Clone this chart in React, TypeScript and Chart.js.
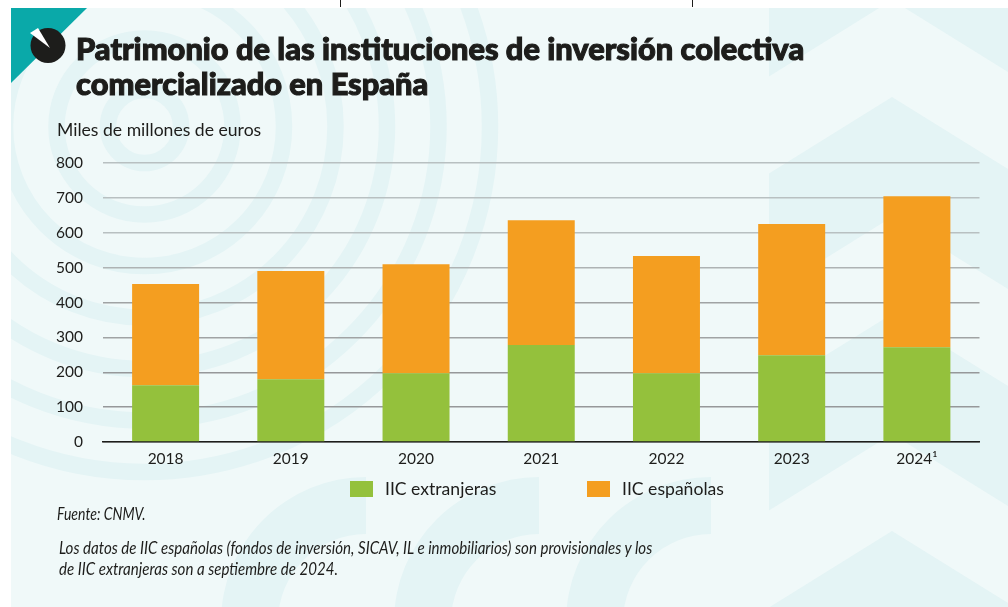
import React, { useEffect, useRef } from "react";
import { Chart, registerables } from "chart.js";

Chart.register(...registerables);

const years = ["2018", "2019", "2020", "2021", "2022", "2023", "2024¹"];
const extranjeras = [163, 180, 197, 278, 197, 249, 272];
const espanolas = [290, 310, 313, 358, 336, 376, 433];
const seriesNames = ["IIC extranjeras", "IIC españolas"];
const seriesColors = ["#94C13C", "#F49E20"];
const titleLines = [
  "Patrimonio de las instituciones de inversión colectiva",
  "comercializado en España",
];
const unitLabel = "Miles de millones de euros";
const sourceLabel = "Fuente: CNMV.";
const noteLines = [
  "Los datos de IIC españolas (fondos de inversión, SICAV, IL e inmobiliarios) son provisionales y los",
  "de IIC extranjeras son a septiembre de 2024.",
];
const ringRadii = [36.5, 88, 139.5, 191, 242.5, 294, 345.5];
const archCentres = [366, 539, 711];
const chevronTops = [-120, 97, 314, 531];

const PANEL = "#F0F9F9";
const BAND = "#E4F4F5";
const INK = "#1D1D1B";
const FONT = "Lato, sans-serif";

function chevron(t: number) {
  return `769,${t + 76.5} 892,${t} 1008,${t + 72} 1008,${t + 192} 892,${t + 120} 769,${t + 196.5}`;
}

function gridColor(value: number) {
  if (value >= 600) return "#B8C0C1";
  if (value >= 500) return "#AEB3B4";
  if (value >= 300) return "#A0A3A4";
  return "#96989A";
}

function Backdrop() {
  return (
    <svg width={1008} height={607} style={{ position: "absolute", left: 0, top: 0 }}>
      <defs>
        <clipPath id="panel">
          <rect x={11} y={8} width={997} height={599} />
        </clipPath>
      </defs>
      <line x1={340.5} y1={0} x2={340.5} y2={7} stroke={INK} />
      <line x1={692.5} y1={0} x2={692.5} y2={7} stroke={INK} />
      <rect x={11} y={8} width={997} height={599} fill={PANEL} />
      <g clipPath="url(#panel)">
        {ringRadii.map((r) => (
          <circle key={r} cx={144.5} cy={126.5} r={r} fill="none" stroke={BAND} strokeWidth={16.5} />
        ))}
        {chevronTops.map((t) => (
          <polygon key={t} points={chevron(t)} fill={BAND} />
        ))}
        {archCentres.map((c) => (
          <path
            key={c}
            d={`M ${c - 145} 622 A 145 145 0 0 1 ${c} 477 L ${c} 534 A 88 88 0 0 0 ${c - 88} 622 Z`}
            fill={BAND}
          />
        ))}
        <polygon points="11,8 87,8 11,83" fill="#0AA9A9" />
        <circle cx={48} cy={45.5} r={17.5} fill={INK} />
        <polygon points="50,48 30,33 38,28" fill="#FFFFFF" />
      </g>
    </svg>
  );
}

const abs = (x: number, y: number): React.CSSProperties => ({
  position: "absolute",
  left: x,
  top: y,
  whiteSpace: "nowrap",
  fontFamily: FONT,
  color: INK,
});

export default function App() {
  const ref = useRef<HTMLCanvasElement>(null);

  useEffect(() => {
    const chart = new Chart(ref.current!, {
      type: "bar",
      data: {
        labels: years,
        datasets: [
          { label: seriesNames[0], data: extranjeras, backgroundColor: seriesColors[0] },
          { label: seriesNames[1], data: espanolas, backgroundColor: seriesColors[1] },
        ],
      },
      options: {
        animation: false,
        responsive: false,
        layout: { autoPadding: false, padding: { top: 163, right: 28.5, bottom: 0, left: 0 } },
        datasets: { bar: { categoryPercentage: 1, barPercentage: 0.535 } },
        plugins: { legend: { display: false }, title: { display: false }, tooltip: { enabled: false } },
        scales: {
          x: {
            stacked: true,
            grid: { display: false, drawTicks: false },
            border: { color: INK, width: 1.5 },
            ticks: { color: INK, font: { family: FONT, size: 15.5 }, padding: 8, maxRotation: 0 },
            afterFit: (s: any) => { s.height = 165; },
          },
          y: {
            stacked: true,
            min: 0,
            max: 800,
            grid: { color: (c: any) => gridColor(c.tick.value), lineWidth: 1.5, drawTicks: false },
            border: { display: false },
            ticks: {
              stepSize: 100,
              color: INK,
              font: { family: FONT, size: 15.5 },
              padding: 20,
            },
            afterFit: (s: any) => { s.width = 103; },
          },
        },
      },
    });
    return () => chart.destroy();
  }, []);

  return (
    <div style={{ position: "fixed", left: 0, top: 0, width: 1008, height: 607, background: "#fff", overflow: "hidden" }}>
      <Backdrop />
      <canvas ref={ref} width={1008} height={607} style={{ position: "absolute", left: 0, top: 0 }} />
      {titleLines.map((t, i) => (
        <div
          key={t}
          style={{
            ...abs(76, 31 + i * 35),
            fontSize: 30.8,
            lineHeight: "36px",
            fontWeight: 900,
            WebkitTextStroke: "1.1px " + INK,
          }}
        >
          {t}
        </div>
      ))}
      <div style={{ ...abs(57, 120), fontSize: 17.6, lineHeight: "20px" }}>{unitLabel}</div>
      {seriesNames.map((n, i) => (
        <React.Fragment key={n}>
          <div style={{ position: "absolute", left: [350, 587][i], top: 481, width: 23, height: 16, background: seriesColors[i] }} />
          <div style={{ ...abs([385, 622][i], 479), fontSize: 17.6, lineHeight: "20px" }}>{n}</div>
        </React.Fragment>
      ))}
      <div style={{ ...abs(57, 505), fontSize: 17, lineHeight: "18px", fontStyle: "italic", transform: "scaleX(0.826)", transformOrigin: "left center" }}>{sourceLabel}</div>
      {noteLines.map((t, i) => (
        <div key={t} style={{ ...abs(59, 538 + i * 21), fontSize: 17, lineHeight: "20px", fontStyle: "italic", transform: "scaleX(0.888)", transformOrigin: "left center" }}>
          {t}
        </div>
      ))}
    </div>
  );
}
